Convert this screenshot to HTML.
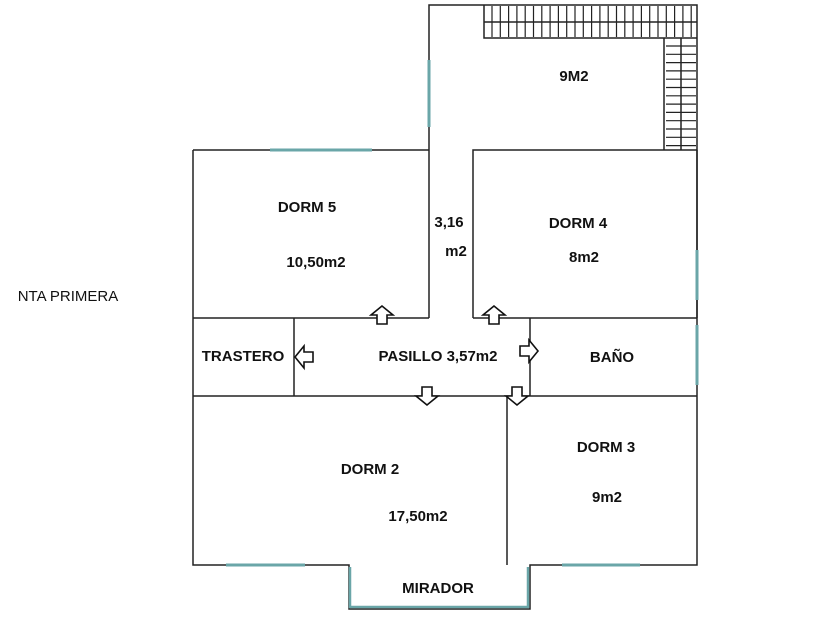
<!DOCTYPE html>
<html><head><style>
body{margin:0;width:840px;height:630px;background:#fff;overflow:hidden}
text{font-family:"Liberation Sans",sans-serif;font-weight:bold;font-size:15px;fill:#111;text-anchor:middle}
</style></head><body>
<svg width="840" height="630" viewBox="0 0 840 630">
<g stroke="#222" stroke-width="1.5" fill="none">
<path d="M429 318V5H697V318"/>
<path d="M193 150H429M193 150V565H349V609H530V565H697V150"/>
<path d="M473 318V150H697"/>
<path d="M193 318H429M473 318H697"/>
<path d="M193 396H697"/>
<path d="M294 318V396M530 318V396M507 396V565"/>
<path d="M484 5V38H664V150M664 38H697M484 22H697M681 38V150"/>
</g>
<g stroke="#222" stroke-width="1.2" id="ticks"></g>
<g stroke="#6aa6a8" stroke-width="3" fill="none">
<path d="M270 150H372M429 60V127M697 250V300M697 325V385M226 565H305M562 565H640"/>
<path d="M350 567V607H528V567" stroke-width="2.5"/>
</g>
<g fill="#fff" stroke="#111" stroke-width="1.6">
<path d="M382 306l-11 9h6v9h10v-9h6z"/>
<path d="M494 306l-11 9h6v9h10v-9h6z"/>
<path d="M427 405l-11 -9h6v-9h10v9h6z"/>
<path d="M517 405l-11 -9h6v-9h10v9h6z"/>
<path d="M295 357l9 -11v6h9v10h-9v6z"/>
<path d="M538 351l-9 -11v6h-9v10h9v6z"/>
</g>
<text x="574" y="81">9M2</text>
<text x="307" y="212">DORM 5</text>
<text x="316" y="267">10,50m2</text>
<text x="449" y="227">3,16</text>
<text x="456" y="256">m2</text>
<text x="578" y="228">DORM 4</text>
<text x="584" y="262">8m2</text>
<text x="243" y="361">TRASTERO</text>
<text x="438" y="361">PASILLO 3,57m2</text>
<text x="612" y="362">BAÑO</text>
<text x="370" y="474">DORM 2</text>
<text x="418" y="521">17,50m2</text>
<text x="606" y="452">DORM 3</text>
<text x="607" y="502">9m2</text>
<text x="438" y="593">MIRADOR</text>
<text x="68" y="301" style="font-weight:normal">NTA PRIMERA</text>
</svg>
<script>
var g=document.getElementById('ticks'),s='';
for(var x=492;x<697;x+=8.3)s+='M'+x.toFixed(1)+' 6V37';
for(var y=46;y<150;y+=8.3)s+='M666 '+y.toFixed(1)+'H696';
var p=document.createElementNS('http://www.w3.org/2000/svg','path');p.setAttribute('d',s);g.appendChild(p);
</script>
</body></html>
